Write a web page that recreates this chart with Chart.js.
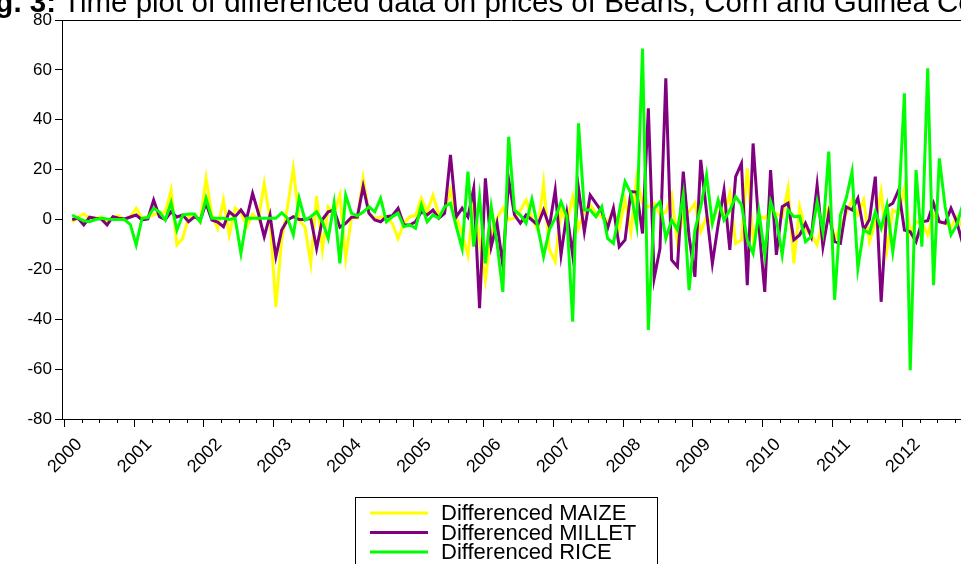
<!DOCTYPE html>
<html>
<head>
<meta charset="utf-8">
<script src="https://cdn.jsdelivr.net/npm/chart.js@4.4.1/dist/chart.umd.min.js"></script>
<style>
  html, body { margin: 0; padding: 0; background: #fff; overflow: hidden; }
  canvas { display: block; }
</style>
</head>
<body>
<canvas id="chart" width="961" height="564"></canvas>
<script>
const years = ["2000", "2001", "2002", "2003", "2004", "2005", "2006",
  "2007", "2008", "2009", "2010", "2011", "2012"];

// monthly differenced prices, Feb 2000 onwards
const maize = [
  -1, 1, 2.2, 0.5, 0.5, 1, -1.3, 1, 1.5, 0, 1, 4.5,
  0.5, 1, 2, 2.5, 3, 11.8, -10.2, -7.6, 1.1, 2, -0.9, 16.5,
  2, -3.5, 7.8, -6.2, 4.5, 3, -2.9, 2, 0, 14.5, 0, -35,
  -8.2, 5, 20.5, -0.2, -3, -17.6, 9.4, -12.2, 5, 2, 9.8, -15.5,
  1.1, 0.5, 16.5, 2.5, 0.5, 1, 1, -1.5, -7.6, -1.5, 1.1, 1.5,
  8.5, 3.1, 9.8, 1.8, 3.5, 11.8, 1, -5.6, -14.3, 7.8, -8.2, -24.3,
  -5.6, 0.5, 4.5, 0, 0.5, 3.5, 7.8, 0.5, -4.2, 14.5, -12.2, -16.9,
  3.8, -1.5, 9.1, -3.5, 3.1, 5.8, 2.5, 1, -0.9, 3.5, -3.5, 7.8,
  -4.9, 16.5, 6.5, 5.1, 6.5, 2, 3, 9.8, -9.6, 2, 3.1, 6.5,
  -4.9, 1, -1.5, 6, 2, 10.5, -9.6, -8.2, 20.5, -8, 1.1, 0.5,
  3.8, 2.5, 1, 12.5, -17.6, 5.1, -4.2, -6, -10.2, 0, 4.5, -8.2,
  -2.5, 2.5, 7.8, 2, 7.8, -8.9, -1, 11.2, -12.2, 3.8, 2.5, 12.5,
  -5.5, -1, -1, -6.2, 2, -1, -1.5, -2.9, 1, -3
];
const millet = [
  0, 0.5, -2.2, 0.9, 0.5, 0.2, -2.2, 1.1, 0.5, 0.2, 1, 1.8,
  -0.2, 0.2, 7.8, 1.1, 0, 3.1, 1, 1.8, -0.9, 1.1, -0.2, 6.5,
  -0.2, -1, -2.9, 3.1, 1.1, 3.8, 0.5, 10.5, 2.5, -6.9, 1.8, -14.9,
  -4.2, -0.2, 1.1, 0, 0, 0.5, -11.6, 0, 3.1, 3.8, -3.1, -1.5,
  0.9, 1, 13.2, 2.5, -0.2, -0.9, 1.1, 1.5, 4.5, -2.2, -2.2, -0.9,
  3.1, 1.8, 3.8, 0.5, 2.5, 25.9, 1.1, 4.5, 1, 12.5, -35.6, 16.5,
  -10.9, -1.5, -18.3, 16, 1.8, -1.5, 1.8, -0.2, -2.2, 3.8, -2.9, 11.8,
  -14.2, 2.5, -14.2, 12.5, -4.9, 9.8, 6.5, 3.1, -3.5, 4.5, -10.9, -8.2,
  11.2, 11, -5.6, 44.6, -23.6, -11.6, 56.6, -16.2, -18.9, 19.2, -6.9, -23,
  23.9, 3, -17.6, -2, 11.8, -12.2, 17.2, 22.5, -26.3, 30.5, -2.9, -29,
  19.8, -14.2, 5.1, 6.5, -8.2, -6.2, -1.5, -6.9, 13.8, -10.9, 2.5, -8.9,
  -9.6, 5.1, 3.8, 8.5, -4.2, 0, 17.2, -33, 5.1, 6.5, 11.8, -4.2,
  -4.9, -8.9, -0.9, -0.5, 6.5, -0.9, -1.5, 4.5, -1, -9.6
];
const rice = [
  1.8, 0.5, -0.5, -0.9, 0, 0.5, 0.2, 0, 0, 0, -2, -10.2,
  0.5, 0.8, 4.5, 3, -0.2, 6.8, -4.2, 1.8, 2.2, 2.2, -0.9, 8.5,
  0.5, 0.5, 0.5, 0, 0.5, -13.6, 0.5, 0.5, 0.5, 0.5, 0.5, 0.5,
  2.7, 0.5, -6.2, 8.5, -0.2, 1.1, 3.1, -0.9, -7.6, 6.5, -17.6, 9.8,
  2.5, 1.5, 3, 5.1, 3.1, 8.5, -0.9, 1.1, 2.5, -2.9, -2.2, -3.5,
  5.8, -0.9, 1.8, 0.5, 5.1, 6.5, -2.9, -11.6, 19.2, -10.9, 9.1, -17.6,
  5.1, -9.6, -29, 33.2, 3.8, 1.8, -1.5, 8.1, -3, -14.9, -4, 0.5,
  7.1, 1.1, -41, 38.6, 3.8, 3.8, 1.1, 5.1, -7.6, -9.6, 3, 15.2,
  10.5, -2.2, 68.6, -44.3, 4.5, 7.1, -7.6, -0.2, -4.2, 9.8, -28.3, -4.2,
  5, 17.8, -1.5, 7.8, -0.2, 3.8, 9.1, 6, -8.2, -13.6, 3.1, -14.2,
  7.1, 0, -14.2, 3.8, 1.1, 1.3, -8.9, -6.9, 7.1, -4.9, 27.2, -32.2,
  1.8, 8.5, 19.2, -19.6, -4.2, -5.5, 3.1, -3.5, 5.8, -12.9, 5, 50.6,
  -60.4, 19.8, -10.9, 60.6, -26.3, 24.5, 5, -6.2, -2.2, 5.8
];

const seriesNames = ["Differenced MAIZE", "Differenced MILLET", "Differenced RICE"];
const seriesColors = ["#ffff00", "#800080", "#00ff00"];

const FONT = "'Liberation Sans', Arial, sans-serif";
const toPoints = arr => arr.map((v, i) => ({ x: i + 1, y: v }));
const yearTick = n => 12 * n - 0.35;

const framePlugin = {
  id: "frame",
  afterDraw(chart) {
    const ctx = chart.ctx;
    const a = chart.chartArea;
    const xs = chart.scales.x;
    ctx.save();
    // top border of the plot box
    ctx.strokeStyle = "#000";
    ctx.lineWidth = 1;
    ctx.beginPath();
    ctx.moveTo(a.left, a.top + 0.5);
    ctx.lineTo(a.right, a.top + 0.5);
    ctx.stroke();
    // quarterly minor ticks
    ctx.beginPath();
    years.forEach((y, n) => {
      for (let q = 1; q < 4; q++) {
        const px = Math.round(xs.getPixelForValue(yearTick(n) + 3 * q)) + 0.5;
        if (px > a.right) continue;
        ctx.moveTo(px, a.bottom);
        ctx.lineTo(px, a.bottom + 4);
      }
    });
    ctx.stroke();

    // title, cut off at the top like the source figure
    ctx.fillStyle = "#000";
    ctx.textBaseline = "alphabetic";
    ctx.font = "29.5px " + FONT;
    ctx.textAlign = "left";
    ctx.fillText("Time plot of differenced data on prices of Beans, Corn and Guinea Corn", 63, 12);
    ctx.font = "bold 29.5px " + FONT;
    ctx.textAlign = "right";
    ctx.fillText("Fig. 3:", 56, 12);

    // legend box
    ctx.strokeStyle = "#000";
    ctx.strokeRect(355.5, 497.5, 302, 80);
    ctx.font = "22px " + FONT;
    ctx.textAlign = "left";
    ctx.textBaseline = "middle";
    chart.data.datasets.forEach((ds, i) => {
      const ly = 513 + i * 19.5;
      ctx.strokeStyle = ds.borderColor;
      ctx.lineWidth = 3;
      ctx.beginPath();
      ctx.moveTo(370, ly);
      ctx.lineTo(428, ly);
      ctx.stroke();
      ctx.fillStyle = "#000";
      ctx.fillText(ds.label, 441, ly + 1);
    });
    ctx.restore();
  }
};

new Chart(document.getElementById("chart"), {
  type: "line",
  data: {
    datasets: [maize, millet, rice].map((arr, i) => ({
      label: seriesNames[i],
      data: toPoints(arr),
      borderColor: seriesColors[i],
      backgroundColor: seriesColors[i],
      borderWidth: 3,
      pointRadius: 0,
      tension: 0,
      order: 3 - i
    }))
  },
  options: {
    responsive: false,
    animation: false,
    devicePixelRatio: 1,
    layout: { padding: { top: 20, right: 0, left: 0, bottom: 0 } },
    plugins: {
      legend: { display: false },
      tooltip: { enabled: false }
    },
    scales: {
      x: {
        type: "linear",
        min: -0.745,
        max: 153.72,
        afterBuildTicks: s => {
          s.ticks = years.map((y, n) => ({ value: yearTick(n) }));
        },
        afterFit: s => { s.height = 145; },
        grid: { drawOnChartArea: false, tickLength: 8, color: "#000" },
        border: { display: true, color: "#000", width: 1 },
        ticks: {
          autoSkip: false,
          minRotation: 45,
          maxRotation: 45,
          labelOffset: 15,
          padding: 7,
          color: "#000",
          font: { family: FONT, size: 18 },
          callback: (v, i) => years[i]
        }
      },
      y: {
        min: -80,
        max: 80,
        afterFit: s => { s.width = 62; },
        grid: { drawOnChartArea: false, tickLength: 7, color: "#000" },
        border: { display: true, color: "#000", width: 1 },
        ticks: {
          stepSize: 20,
          padding: 3,
          color: "#000",
          font: { family: FONT, size: 17 }
        }
      }
    }
  },
  plugins: [framePlugin]
});
</script>
</body>
</html>
